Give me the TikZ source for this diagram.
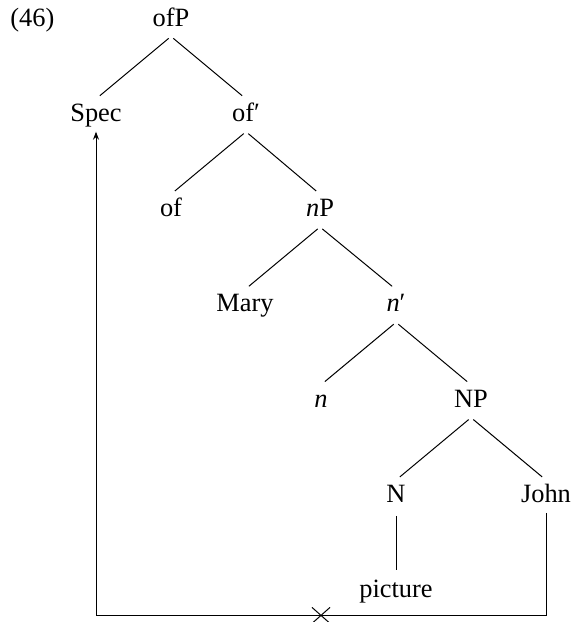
\documentclass[tikz,border=0pt]{standalone}
\usepackage{fontspec}
\setmainfont{Liberation Serif}
\usetikzlibrary{arrows.meta,shapes.misc}

\begin{document}
\begin{tikzpicture}[
    x=0.5pt, y=-0.5pt,
    every node/.style={font=\fontsize{13.2}{15.5}\selectfont},
    cat/.style={anchor=base, text height=9pt, text depth=3pt, inner xsep=1pt, inner ysep=2pt},
    branch/.style={line width=0.5pt, shorten <=1.5pt, shorten >=2.5pt},
    move/.style={line width=0.5pt, -{Stealth[length=4pt, width=3pt]}},
    xmark/.style={draw, cross out, line width=0.5pt, minimum width=8.5pt, minimum height=7.5pt, inner sep=0pt},
]
\useasboundingbox (0,0) rectangle (573,622);

\node[anchor=base west, inner sep=0pt] (exnum) at (10,26) {(46)};

% Tree
\node[cat] (ofp) at (171,26) {ofP};
\node[cat] (spec) at (96,121.3) {Spec};
\node[cat] (ofbar) at (246,121.3) {of′};
\node[cat] (of) at (171,216.6) {of};
\node[cat] (np) at (320,216.6) {\textit{n}P};
\node[cat] (mary) at (245,311.9) {Mary};
\node[cat] (nbar) at (396,311.9) {\textit{n}′};
\node[cat] (nhead) at (321,407.2) {\textit{n}};
\node[cat] (bigNP) at (471,407.2) {NP};
\node[cat] (bigN) at (396,502.5) {N};
\node[cat] (john) at (546,502.5) {John};
\node[cat] (picture) at (396,597.8) {picture};

% Branches
\draw[branch] (ofp.south) -- (spec.north);
\draw[branch] (ofp.south) -- (ofbar.north);
\draw[branch] (ofbar.south) -- (of.north);
\draw[branch] (ofbar.south) -- (np.north);
\draw[branch] (np.south) -- (mary.north);
\draw[branch] (np.south) -- (nbar.north);
\draw[branch] (nbar.south) -- (nhead.north);
\draw[branch] (nbar.south) -- (bigNP.north);
\draw[branch] (bigNP.south) -- (bigN.north);
\draw[branch] (bigNP.south) -- (john.north);
\draw[branch] (bigN.south) -- (picture.north);

% Movement
\draw[move] (john.south) -- ++(0,102.5) -| node[pos=0.25, xmark] {} (spec.south);

\end{tikzpicture}
\end{document}
